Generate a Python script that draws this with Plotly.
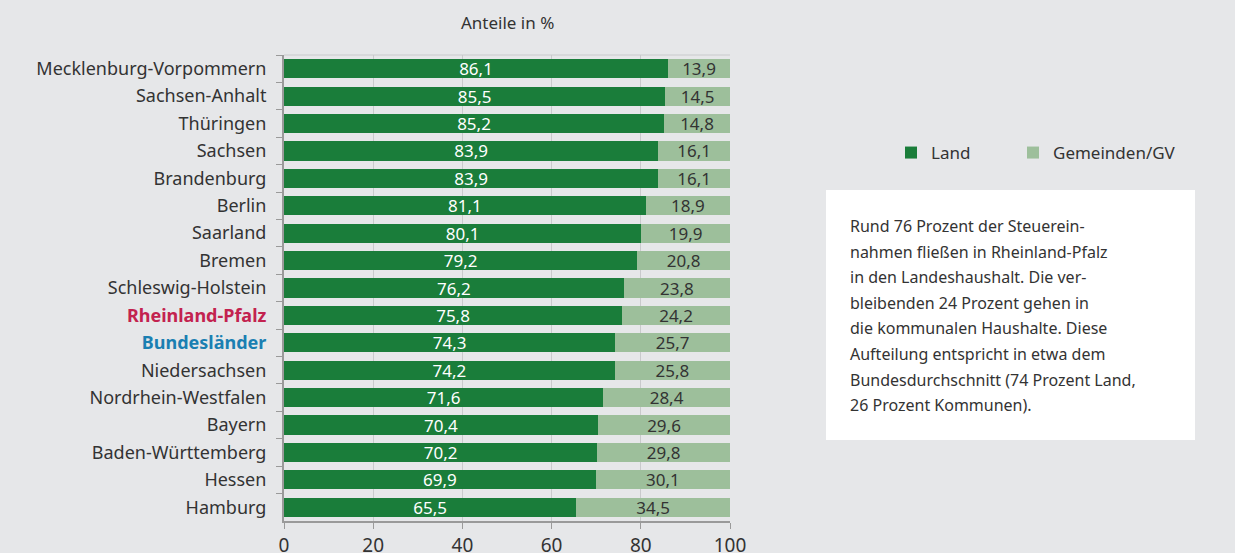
import plotly.graph_objects as go

laender = ["Mecklenburg-Vorpommern", "Sachsen-Anhalt", "Thüringen", "Sachsen", "Brandenburg",
           "Berlin", "Saarland", "Bremen", "Schleswig-Holstein", "Rheinland-Pfalz", "Bundesländer",
           "Niedersachsen", "Nordrhein-Westfalen", "Bayern", "Baden-Württemberg", "Hessen", "Hamburg"]
land = [86.1, 85.5, 85.2, 83.9, 83.9, 81.1, 80.1, 79.2, 76.2, 75.8, 74.3, 74.2, 71.6, 70.4, 70.2, 69.9, 65.5]
gemeinden = [13.9, 14.5, 14.8, 16.1, 16.1, 18.9, 19.9, 20.8, 23.8, 24.2, 25.7, 25.8, 28.4, 29.6, 29.8, 30.1, 34.5]
x_ticks = [0, 20, 40, 60, 80, 100]

note_lines = ["Rund 76 Prozent der Steuerein-",
              "nahmen fließen in Rheinland-Pfalz",
              "in den Landeshaushalt. Die ver-",
              "bleibenden 24 Prozent gehen in",
              "die kommunalen Haushalte. Diese",
              "Aufteilung entspricht in etwa dem",
              "Bundesdurchschnitt (74 Prozent Land,",
              "26 Prozent Kommunen)."]

FONT = "Noto Sans"
BG = "#e6e7e9"

def fmt(v):
    return f"{v:.1f}".replace(".", ",")

def label(name):
    if name == "Rheinland-Pfalz":
        return "<b><span style='color:#c3224f'>Rheinland-Pfalz</span></b>"
    if name == "Bundesländer":
        return "<b><span style='color:#1a7fb2'>Bundesländer</span></b>"
    return name

cats = [label(n) for n in laender]

fig = go.Figure()
fig.add_trace(go.Bar(
    y=cats, x=land, orientation="h", name="Land", legend="legend",
    marker=dict(color="#1a7d3a", line=dict(width=0)),
    text=[fmt(v) for v in land], textposition="inside", insidetextanchor="middle",
    constraintext="none", textangle=0,
    textfont=dict(color="white", size=17, family=FONT),
))
fig.add_trace(go.Bar(
    y=cats, x=gemeinden, orientation="h", name="Gemeinden/GV", legend="legend2",
    marker=dict(color="#9dbf9b", line=dict(width=0)),
    text=[fmt(v) for v in gemeinden], textposition="inside", insidetextanchor="middle",
    constraintext="none", textangle=0,
    textfont=dict(color="#333333", size=17, family=FONT),
))

L, R, T, B = 284, 730, 55, 521
W, H = 1235, 553

def px(xp):
    return (xp - L) / (R - L)

def py(yp):
    return 1 - (yp - T) / (B - T)

legend_style = dict(orientation="h", yanchor="middle", xanchor="left",
                    font=dict(size=17, color="#333333"), bgcolor="rgba(0,0,0,0)",
                    itemwidth=30)

fig.update_layout(
    width=W, height=H,
    barmode="stack", bargap=0.3,
    paper_bgcolor=BG, plot_bgcolor=BG,
    font=dict(family=FONT, size=17, color="#333333"),
    margin=dict(l=L, r=W - R, t=T, b=H - B, pad=0, autoexpand=False),
    showlegend=True,
    legend=dict(x=px(891), y=py(153), **legend_style),
    legend2=dict(x=px(1013), y=py(153), **legend_style),
    xaxis=dict(range=[0, 100], tickvals=x_ticks, ticktext=[str(t) for t in x_ticks],
               showgrid=True, gridcolor="#c9cacc", gridwidth=1,
               showline=True, linecolor="#9a9a9a", linewidth=2,
               ticks="outside", ticklen=6, tickcolor="#9a9a9a", automargin=False,
               zeroline=False, tickfont=dict(size=19, color="#333333"), fixedrange=True),
    yaxis=dict(autorange="reversed", showline=True, linecolor="#9a9a9a", linewidth=2,
               ticks="outside", ticklen=6, tickcolor="#9a9a9a", tickson="boundaries",
               showgrid=False, tickfont=dict(size=18, color="#333333"),
               ticklabelstandoff=12, automargin=False, fixedrange=True),
)

# top border of plot area
fig.add_shape(type="line", xref="paper", yref="paper", x0=0, x1=1, y0=1, y1=1,
              line=dict(color="#c9cacc", width=1))

# title
fig.add_annotation(text="Anteile in %", xref="paper", yref="paper", x=0.5, y=py(22),
                   showarrow=False, font=dict(size=17, color="#333333"), yanchor="middle")

# note box
fig.add_shape(type="rect", xref="paper", yref="paper", x0=px(826), x1=px(1195),
              y0=py(440), y1=py(190), fillcolor="white", line=dict(width=0), layer="below")
for i, line in enumerate(note_lines):
    fig.add_annotation(text=line, xref="paper", yref="paper", x=px(848), y=py(226 + i * 25.6),
                       xanchor="left", yanchor="middle", showarrow=False,
                       font=dict(size=16, color="#333333"))

fig.write_html("out.html", config={"displayModeBar": False},
               post_script="document.body.style.margin='0';document.body.style.background='#e6e7e9';")
